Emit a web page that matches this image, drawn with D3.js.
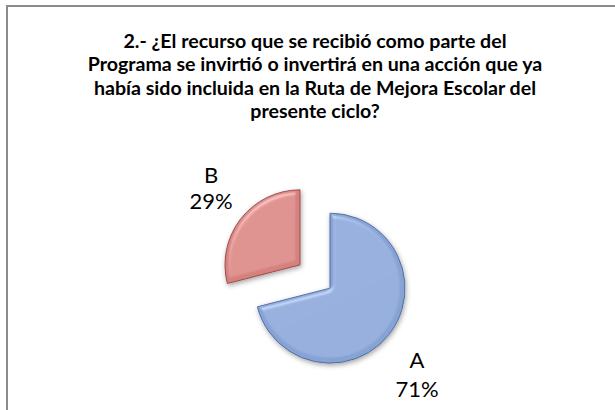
<!DOCTYPE html>
<html>
<head>
<meta charset="utf-8">
<style>
  body { margin: 0; background: #fff; }
  svg { display: block; }
  .title text { font: bold 19.6px Lato, sans-serif; fill: #000; text-anchor: middle; }
  .lbl { font: 22px Lato, sans-serif; fill: #000; text-anchor: middle; }
</style>
<script src="https://cdnjs.cloudflare.com/ajax/libs/d3/7.8.5/d3.min.js"></script>
</head>
<body>
<div id="chart"></div>
<script>
var categories = ["A", "B"];
var values = [71, 29];
var titleLines = [
  "2.- ¿El recurso que se recibió como parte del",
  "Programa se invirtió o invertirá en una acción que ya",
  "había sido incluida en la Ruta de Mejora Escolar del",
  "presente ciclo?"
];

var W = 615, H = 410;
var fills = ["#86A3D4", "#D5827F"];
var edges = ["#4F6FA6", "#9E4B49"];

var svg = d3.select("#chart").append("svg").attr("width", W).attr("height", H);

// chart area border (runs off the right and bottom of the picture)
svg.append("rect")
  .attr("x", 7).attr("y", 6).attr("width", 640).attr("height", 440)
  .attr("fill", "#fff").attr("stroke", "#8c8c8c").attr("stroke-width", 2);

var defs = svg.append("defs");
var f = defs.append("filter").attr("id", "bevel")
  .attr("x", "-20%").attr("y", "-20%").attr("width", "140%").attr("height", "140%");
f.append("feGaussianBlur").attr("in", "SourceAlpha").attr("stdDeviation", 2.5).attr("result", "blur");
f.append("feOffset").attr("in", "blur").attr("dx", 1).attr("dy", 2).attr("result", "shOff");
f.append("feFlood").attr("flood-color", "#000").attr("flood-opacity", 0.35).attr("result", "shCol");
f.append("feComposite").attr("in", "shCol").attr("in2", "shOff").attr("operator", "in").attr("result", "shadow");
var spec = f.append("feSpecularLighting").attr("in", "blur").attr("surfaceScale", 4)
  .attr("specularConstant", 0.3).attr("specularExponent", 18)
  .attr("lighting-color", "#ffffff").attr("result", "spec");
spec.append("fePointLight").attr("x", -4000).attr("y", -8000).attr("z", 9000);
f.append("feComposite").attr("in", "spec").attr("in2", "SourceAlpha").attr("operator", "in").attr("result", "specOut");
f.append("feComposite").attr("in", "SourceGraphic").attr("in2", "specOut")
  .attr("operator", "arithmetic").attr("k1", 0).attr("k2", 1).attr("k3", 1).attr("k4", 0).attr("result", "lit");
var m = f.append("feMerge");
m.append("feMergeNode").attr("in", "shadow");
m.append("feMergeNode").attr("in", "lit");

// title
var title = svg.append("g").attr("class", "title");
titleLines.forEach(function(t, i) {
  title.append("text").attr("x", 315).attr("y", 48 + i * 23.4).text(t);
});

// pie
var cx = 315, cy = 276.5, r = 75, explode = 19;
var pie = d3.pie().sort(null).value(function(d) { return d; });
var arcs = pie(values);
var arc = d3.arc().innerRadius(0).outerRadius(r);

var g = svg.append("g").attr("transform", "translate(" + cx + "," + cy + ")");
arcs.forEach(function(a, i) {
  var mid = (a.startAngle + a.endAngle) / 2;
  var dx = Math.sin(mid) * explode, dy = -Math.cos(mid) * explode;
  g.append("path")
    .attr("transform", "translate(" + dx + "," + dy + ")")
    .attr("d", arc(a))
    .attr("fill", fills[i])
    .attr("stroke", edges[i])
    .attr("stroke-width", 1)
    .attr("filter", "url(#bevel)");
});

// labels: category on one line, percentage below
var lblPos = [[417, 360], [211, 175]];
var lblGap = [29, 26];
categories.forEach(function(c, i) {
  svg.append("text").attr("class", "lbl")
    .attr("x", lblPos[i][0]).attr("y", lblPos[i][1] + 8).text(c);
  svg.append("text").attr("class", "lbl")
    .attr("x", lblPos[i][0]).attr("y", lblPos[i][1] + 8 + lblGap[i])
    .text(Math.round(values[i] / d3.sum(values) * 100) + "%");
});
</script>
</body>
</html>
